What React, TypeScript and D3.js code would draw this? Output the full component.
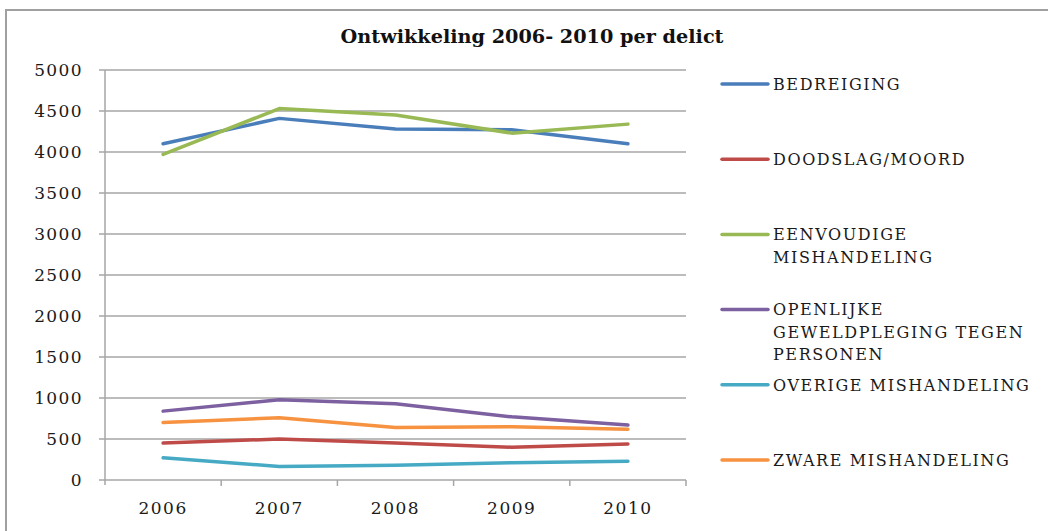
import * as React from "react";
import * as d3 from "d3";

const years = ["2006", "2007", "2008", "2009", "2010"];
const seriesNames = [
	"BEDREIGING",
	"DOODSLAG/MOORD",
	"EENVOUDIGE MISHANDELING",
	"OPENLIJKE GEWELDPLEGING TEGEN PERSONEN",
	"OVERIGE MISHANDELING",
	"ZWARE MISHANDELING",
];
// legend text wrapped as in the original
const legendLines = [
	["BEDREIGING"],
	["DOODSLAG/MOORD"],
	["EENVOUDIGE", "MISHANDELING"],
	["OPENLIJKE", "GEWELDPLEGING TEGEN", "PERSONEN"],
	["OVERIGE MISHANDELING"],
	["ZWARE MISHANDELING"],
];
const bedreiging = [4100, 4410, 4280, 4270, 4100];
const doodslag = [450, 500, 450, 400, 440];
const eenvoudige = [3970, 4530, 4450, 4230, 4340];
const openlijke = [840, 980, 930, 770, 670];
const overige = [270, 165, 180, 210, 230];
const zware = [700, 760, 640, 650, 620];
const seriesValues = [bedreiging, doodslag, eenvoudige, openlijke, overige, zware];
const colors = ["#4a7ebb", "#be4b48", "#98b954", "#7d60a0", "#46aac5", "#f69240"];
const yTicks = [0, 500, 1000, 1500, 2000, 2500, 3000, 3500, 4000, 4500, 5000];

const font = "'DejaVu Serif', serif";

export default function App() {
	const width = 1048;
	const height = 531;
	const left = 105;
	const right = 686;
	const top = 70;
	const bottom = 480;

	const xScale = d3.scaleBand<string>().domain(years).range([left, right]);
	const yScale = d3.scaleLinear().domain([0, 5000]).range([bottom, top]);
	const line = d3
		.line<number>()
		.x((_, i) => (xScale(years[i]) ?? 0) + xScale.bandwidth() / 2)
		.y((d) => yScale(d));

	const grid = "#a6a6a6";

	return (
		<svg
			width={width}
			height={height}
			style={{ position: "absolute", left: 0, top: 0, background: "white" }}
			fontFamily={font}
		>
			{/* outer chart frame */}
			<path d={`M6,${height} V10 H${width}`} fill="none" stroke="#a0a0a0" strokeWidth={2} />

			<text
				x={532}
				y={43}
				textAnchor="middle"
				fontWeight="bold"
				fontSize={18}
				textLength={383}
				lengthAdjust="spacingAndGlyphs"
				fill="#111"
			>
				Ontwikkeling 2006- 2010 per delict
			</text>

			{/* gridlines + y ticks */}
			{yTicks.map((t) => (
				<g key={t}>
					{t > 0 && (
						<line x1={left} x2={right} y1={yScale(t)} y2={yScale(t)} stroke={grid} strokeWidth={1.5} />
					)}
					<line x1={left - 6} x2={left} y1={yScale(t)} y2={yScale(t)} stroke={grid} strokeWidth={1.5} />
					<text
						x={left - 22}
						y={yScale(t)}
						dy="0.36em"
						textAnchor="end"
						fontSize={17}
						letterSpacing={1.4}
						fill="#1a1a1a"
					>
						{t}
					</text>
				</g>
			))}

			{/* axes */}
			<line x1={left} x2={left} y1={top} y2={bottom + 5} stroke={grid} strokeWidth={1.5} />
			<line x1={left} x2={right} y1={bottom} y2={bottom} stroke={grid} strokeWidth={1.5} />
			{years.map((y, i) => (
				<g key={y}>
					{i > 0 && (
						<line
							x1={xScale(y)}
							x2={xScale(y)}
							y1={bottom}
							y2={bottom + 6}
							stroke={grid}
							strokeWidth={1.5}
						/>
					)}
					<text
						x={(xScale(y) ?? 0) + xScale.bandwidth() / 2}
						y={514}
						textAnchor="middle"
						fontSize={17}
						letterSpacing={1.5}
						fill="#1a1a1a"
					>
						{y}
					</text>
				</g>
			))}
			<line x1={right} x2={right} y1={bottom} y2={bottom + 6} stroke={grid} strokeWidth={1.5} />

			{/* series */}
			{seriesValues.map((vals, i) => (
				<path
					key={seriesNames[i]}
					d={line(vals) ?? ""}
					fill="none"
					stroke={colors[i]}
					strokeWidth={3.5}
					strokeLinejoin="round"
					strokeLinecap="round"
				/>
			))}

			{/* legend */}
			{legendLines.map((lines, i) => {
				const ly = 84 + i * 75.2;
				return (
					<g key={seriesNames[i]}>
						<line x1={722} x2={768} y1={ly} y2={ly} stroke={colors[i]} strokeWidth={3.5} strokeLinecap="round" />
						{lines.map((s, j) => (
							<text
								key={j}
								x={773}
								y={ly + j * 22.5}
								dy="0.36em"
								fontSize={16}
								letterSpacing={1.6}
								fill="#1a1a1a"
							>
								{s}
							</text>
						))}
					</g>
				);
			})}
		</svg>
	);
}
